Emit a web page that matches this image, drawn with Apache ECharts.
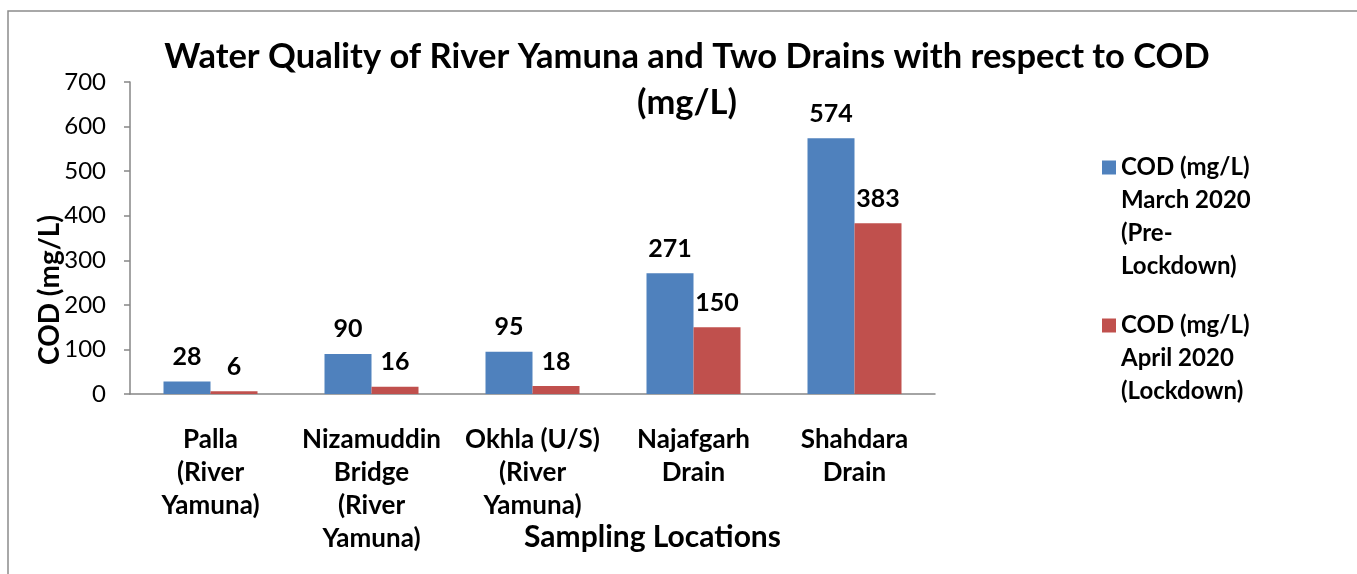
<!DOCTYPE html>
<html>
<head>
<meta charset="utf-8">
<script src="https://cdn.jsdelivr.net/npm/echarts@6/dist/echarts.min.js"></script>
<style>
  html, body { margin: 0; padding: 0; background: #fff; }
  #main { width: 1357px; height: 574px; }
</style>
</head>
<body>
<div id="main"></div>
<script>
  // sampling locations and COD values (mg/L)
  var categories = [
    'Palla\n(River\nYamuna)',
    'Nizamuddin\nBridge\n(River\nYamuna)',
    'Okhla (U/S)\n(River\nYamuna)',
    'Najafgarh\nDrain',
    'Shahdara\nDrain'
  ]
  var marchValues = [28, 90, 95, 271, 574]
  var aprilValues = [6, 16, 18, 150, 383]
  var seriesNames = [
    'COD (mg/L)\nMarch 2020\n(Pre-\nLockdown)',
    'COD (mg/L)\nApril 2020\n(Lockdown)'
  ]

  var font = 'Lato, "Open Sans", sans-serif'
  var axisGray = '#868686'
  var legendText = { fontFamily: font, fontSize: 24, fontWeight: 'bold', color: '#000', lineHeight: 33 }

  // blank lines in front so the square sits beside the first line (like excel)
  function padLines(name) {
    var n = name.split('\n').length
    return new Array(n).join('\n') + name
  }

  var myChart = echarts.init(document.getElementById('main'))
  myChart.setOption({
    backgroundColor: '#fff',
    color: ['#4F81BD', '#C0504D'],
    title: {
      text: 'Water Quality of River Yamuna and Two Drains with respect to COD\n(mg/L)',
      left: 682,
      textAlign: 'center',
      top: 29,
      textStyle: {
        fontFamily: font, fontSize: 34.5, fontWeight: 'bold', color: '#000', lineHeight: 46
      }
    },
    graphic: [{
      type: 'rect',
      shape: { x: 8, y: 11, width: 1400, height: 700 },
      style: { fill: 'none', stroke: '#8c8c8c', lineWidth: 1.5 },
      silent: true
    }],
    legend: [
      {
        data: [seriesNames[0]],
        formatter: padLines,
        left: 1102, top: 52, padding: 0, orient: 'vertical',
        icon: 'rect', itemWidth: 14, itemHeight: 14,
        textStyle: legendText
      },
      {
        data: [seriesNames[1]],
        formatter: padLines,
        left: 1102, top: 243, padding: 0, orient: 'vertical',
        icon: 'rect', itemWidth: 14, itemHeight: 14,
        textStyle: legendText
      }
    ],
    grid: { left: 130, right: 422, top: 82, bottom: 180, containLabel: false, outerBoundsMode: 'none' },
    xAxis: {
      type: 'category',
      data: categories,
      name: 'Sampling Locations',
      nameLocation: 'middle',
      nameGap: 128,
      nameMoveOverlap: false,
      nameTextStyle: {
        fontFamily: font, fontSize: 30, fontWeight: 'bold', color: '#000',
        padding: [0, 0, 0, 240]
      },
      axisLine: { lineStyle: { color: axisGray, width: 1.5 } },
      axisTick: { show: false },
      axisLabel: {
        interval: 0, margin: 29,
        fontFamily: font, fontSize: 26, fontWeight: 'bold', color: '#000', lineHeight: 33,
        verticalAlign: 'top'
      }
    },
    yAxis: {
      type: 'value',
      min: 0, max: 700, interval: 100,
      name: 'COD (mg/L)',
      nameLocation: 'middle',
      nameGap: 66,
      nameMoveOverlap: false,
      nameTextStyle: {
        fontFamily: font, fontSize: 28, fontWeight: 'bold', color: '#000',
        padding: [0, 104, 0, 0]
      },
      axisLine: { show: true, lineStyle: { color: axisGray, width: 1.5 } },
      axisTick: { show: true, length: 6, lineStyle: { color: axisGray, width: 1.5 } },
      splitLine: { show: false },
      axisLabel: { margin: 24, fontFamily: font, fontSize: 24, color: '#000' }
    },
    series: [
      {
        name: seriesNames[0], type: 'bar', data: marchValues,
        barWidth: 47, barGap: '0%',
        label: { show: true, position: 'top', distance: 12, fontFamily: font, fontSize: 25, fontWeight: 'bold', color: '#000' }
      },
      {
        name: seriesNames[1], type: 'bar', data: aprilValues,
        barWidth: 47, barGap: '0%',
        label: { show: true, position: 'top', distance: 12, fontFamily: font, fontSize: 25, fontWeight: 'bold', color: '#000' }
      }
    ]
  })
</script>
</body>
</html>
